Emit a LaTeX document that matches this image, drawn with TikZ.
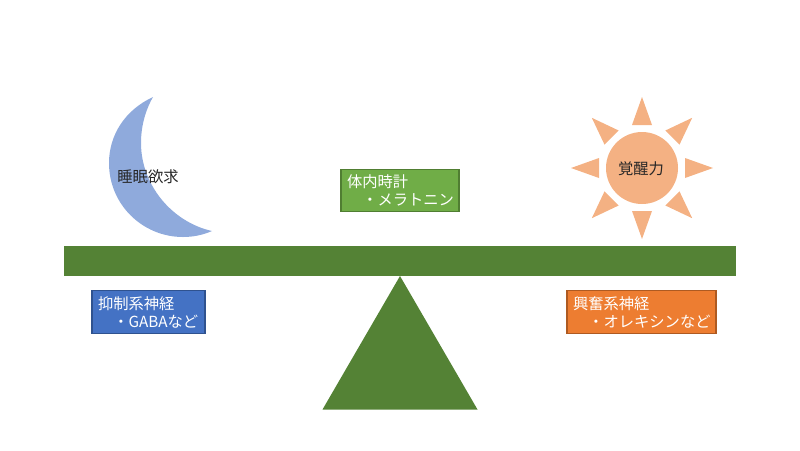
\documentclass[tikz,border=0pt]{standalone}
\usepackage{fontspec}
\newfontfamily\jpfont{Noto Sans CJK JP}
\definecolor{beamgreen}{HTML}{548235}
\definecolor{moonblue}{HTML}{8FAADC}
\definecolor{sunorange}{HTML}{F4B183}
\definecolor{clockfill}{HTML}{70AD47}
\definecolor{clockline}{HTML}{507E32}
\definecolor{gabafill}{HTML}{4472C4}
\definecolor{gabaline}{HTML}{2F528F}
\definecolor{orexinfill}{HTML}{ED7D31}
\definecolor{orexinline}{HTML}{AE5A21}
\tikzset{
  infobox/.style={draw, line width=0.6pt, text=white, align=left, inner xsep=0.12cm, inner ysep=0pt, minimum height=0.85cm},
  shapelabel/.style={text=black!85}
}
\begin{document}
\begin{tikzpicture}[x=0.02cm, y=-0.02cm, font=\jpfont\fontsize{8.7}{10.2}\selectfont]
    \useasboundingbox (0,0) rectangle (800,450);

    % balance
    \fill[beamgreen] (64,246) rectangle (736,275.5);
    \fill[beamgreen] (400,276) -- (477.5,409.5) -- (322.5,409.5) -- cycle;

    % moon
    \fill[moonblue] (153,97) .. controls (125,110) and (109,135) .. (109,163)
      .. controls (109,205) and (143,237) .. (183,237)
      .. controls (193,237) and (203,235) .. (212,231)
      .. controls (172,222) and (141,185) .. (141,143)
      .. controls (141,127) and (145,111) .. (153,97) -- cycle;
    \node[shapelabel] (sleep) at (148,176.5) {睡眠欲求};

    % sun
    \fill[sunorange] (642,168) circle (36);
    \foreach \ang in {0,45,...,315}
      \fill[sunorange, shift={(642,168)}, rotate=\ang] (43,-10) -- (71,0) -- (43,10) -- cycle;
    \node[shapelabel] (wake) at (641,168.5) {覚醒力};

    \node[infobox, draw=clockline, fill=clockfill, text width=2.12cm] (clock) at (400,190.5) {体内時計\\　・メラトニン};
    \node[infobox, draw=gabaline, fill=gabafill, text width=2.02cm] (gaba) at (148.5,312) {抑制系神経\\　・GABAなど};
    \node[infobox, draw=orexinline, fill=orexinfill, text width=2.74cm] (orexin) at (641.5,312) {興奮系神経\\　・オレキシンなど};
\end{tikzpicture}
\end{document}
